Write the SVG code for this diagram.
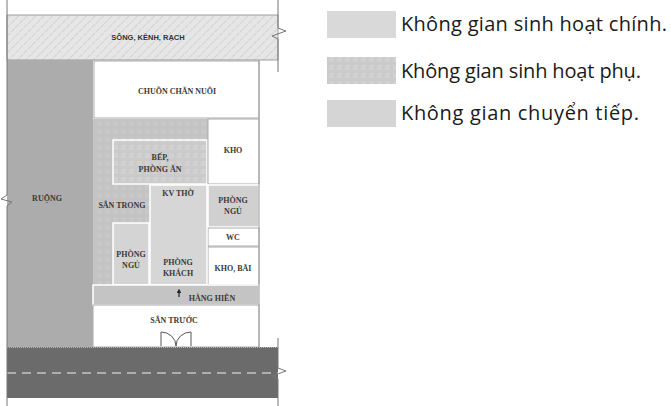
<svg xmlns="http://www.w3.org/2000/svg" width="671" height="406" viewBox="0 0 671 406">
<defs>
<pattern id="hatch" width="6" height="6" patternUnits="userSpaceOnUse" patternTransform="rotate(45)">
<rect width="6" height="6" fill="#e6e6e6"/>
<line x1="0" y1="0" x2="0" y2="6" stroke="#b5b5b5" stroke-width="0.8" stroke-dasharray="3 1"/>
</pattern>
<pattern id="grid" width="8" height="8" patternUnits="userSpaceOnUse">
<rect width="8" height="8" fill="#c3c3c3"/>
<rect x="1" y="1" width="5" height="5" fill="#c8c8c8"/>
</pattern>
<pattern id="grid2" width="8" height="8" patternUnits="userSpaceOnUse">
<rect width="8" height="8" fill="#cacaca"/>
<rect x="1" y="1" width="5" height="5" fill="#d1d1d1"/>
</pattern>
<marker id="arr" viewBox="0 0 6 6" refX="3" refY="3" markerWidth="4" markerHeight="4" orient="auto">
<path d="M0,0 L6,3 L0,6 Z" fill="#222"/>
</marker>
</defs>
<style>
.lbl{font-family:"Liberation Serif",serif;font-size:8px;font-weight:bold;fill:#3a3a3a;text-anchor:middle}
.sans{font-family:"Liberation Sans",Arial,sans-serif;font-size:7.5px;font-weight:bold;fill:#333;text-anchor:middle}
.leg{font-family:"Open Sans","Noto Sans",sans-serif;font-size:20px;fill:#1a1a1a}
.edge{fill:none;stroke:#777;stroke-width:1}
.room{stroke:#fff;stroke-width:1.5}
.white{fill:#fff;stroke:#aaa;stroke-width:1}
</style>
<g id="river">
<rect x="7" y="15" width="271" height="45" fill="url(#hatch)" stroke="#888" stroke-width="0.8"/>
<text class="sans" x="148" y="40">SÔNG, KÊNH, RẠCH</text>
</g>
<g id="ruong">
<rect x="7" y="60" width="86" height="287" fill="#acacac"/>
<text class="lbl" x="47" y="201">RUỘNG</text>
</g>
<g id="chuong">
<rect x="94" y="61" width="165" height="57" class="white"/>
<text class="lbl" x="177" y="94">CHUỒN CHĂN NUÔI</text>
</g>
<g id="san-trong">
<rect x="93" y="119" width="115" height="166" fill="url(#grid)"/>
<text class="lbl" x="122" y="208">SÂN TRONG</text>
</g>
<g id="bep">
<rect x="113" y="140" width="94" height="44" fill="url(#grid2)" class="room"/>
<text class="lbl" x="160" y="160">BẾP,</text>
<text class="lbl" x="160" y="172">PHÒNG ĂN</text>
</g>
<g id="kho">
<rect x="208" y="119" width="51" height="65" class="white"/>
<text class="lbl" x="233" y="153">KHO</text>
</g>
<g id="phong-ngu-phai">
<rect x="208" y="185" width="51" height="42" fill="#d0d0d0" class="room"/>
<text class="lbl" x="233" y="203">PHÒNG</text>
<text class="lbl" x="233" y="214">NGỦ</text>
</g>
<g id="wc">
<rect x="208" y="228" width="51" height="18" class="white"/>
<text class="lbl" x="233" y="240">WC</text>
</g>
<g id="kho-bai">
<rect x="208" y="247" width="51" height="38" class="white"/>
<text class="lbl" x="233" y="271">KHO, BÃI</text>
</g>
<g id="phong-khach">
<rect x="150" y="185" width="57" height="100" fill="#d6d6d6" class="room"/>
<text class="lbl" x="178" y="196">KV THỜ</text>
<text class="lbl" x="178" y="265">PHÒNG</text>
<text class="lbl" x="178" y="276">KHÁCH</text>
</g>
<g id="phong-ngu-trai">
<rect x="113" y="223" width="36" height="62" fill="#d4d4d4" class="room"/>
<text class="lbl" x="131" y="257">PHÒNG</text>
<text class="lbl" x="131" y="268">NGỦ</text>
</g>
<g id="hang-hien">
<rect x="93" y="285" width="166" height="20" fill="#c4c4c4" class="room"/>
<text class="lbl" x="212" y="301">HÀNG HIÊN</text>
</g>
<g id="san-truoc">
<rect x="93" y="305" width="166" height="42" class="white"/>
<text class="lbl" x="174" y="323">SÂN TRƯỚC</text>
<path d="M161,346 V332 A15,14 0 0 1 176,346 M191,346 V332 A15,14 0 0 0 176,346" fill="none" stroke="#444" stroke-width="0.9"/>
</g>
<g id="road">
<rect x="7" y="347" width="271" height="51" fill="#6b6b6b"/>
<line x1="7" y1="347.5" x2="278" y2="347.5" stroke="#bbb" stroke-width="1" stroke-dasharray="1 1"/>
<line x1="7" y1="373" x2="278" y2="373" stroke="#f2f2f2" stroke-width="1" stroke-dasharray="9 6"/>
</g>
<g id="connectors">
<line x1="179" y1="297" x2="179" y2="291" stroke="#222" stroke-width="1.2" marker-end="url(#arr)"/>
<path class="edge" d="M7,0 V195 L1,199 L12,202 L7,206 V406"/>
<path class="edge" d="M278,0 V28 L286,31 L272,36 L278,39 V72"/>
<path class="edge" d="M278,338 V368 L286,371 L272,376 L278,379 V406"/>
<line x1="259" y1="60" x2="259" y2="347" stroke="#999" stroke-width="1"/>
</g>
<g id="legend">
<rect x="327" y="11" width="69" height="27" fill="#d9d9d9"/>
<text class="leg" x="401" y="31" textLength="266">Không gian sinh hoạt chính.</text>
<rect x="327" y="57" width="69" height="27" fill="url(#grid2)"/>
<text class="leg" x="401" y="78" textLength="240">Không gian sinh hoạt phụ.</text>
<rect x="327" y="100" width="69" height="27" fill="#d5d5d5"/>
<text class="leg" x="401" y="120" textLength="238">Không gian chuyển tiếp.</text>
</g>
</svg>
